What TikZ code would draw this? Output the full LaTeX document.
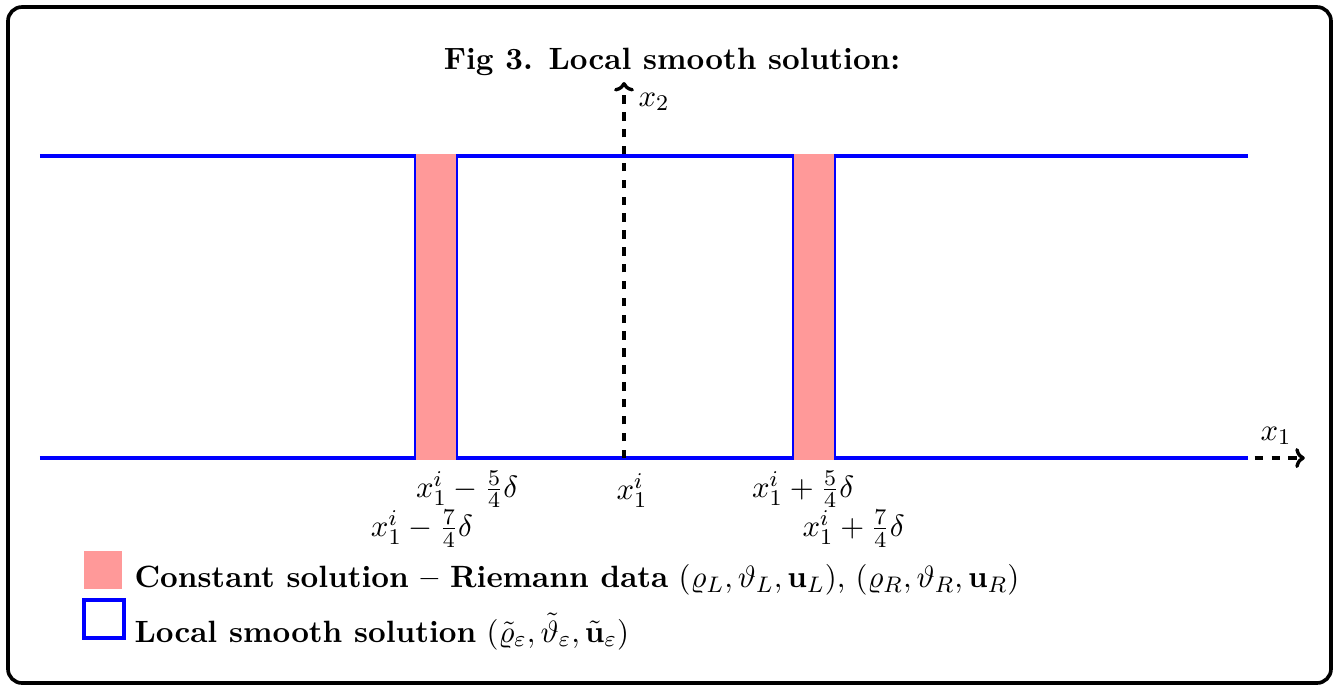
\documentclass[11pt,tikz,border=0pt]{standalone}
\usepackage{amsmath,amssymb}
\usetikzlibrary{arrows.meta}

\begin{document}
\begin{tikzpicture}[
  frame/.style={draw,line width=1.3pt,rounded corners=5pt},
  strip/.style={fill=red!40,draw=none},
  smooth/.style={blue,line width=1.1pt},
  axis/.style={-{To[scale=0.8]},dashed,very thick},
  tick/.style={inner sep=1pt}]

\useasboundingbox (-7.8,-2.8375) rectangle (8.8875,5.725);
\draw[frame] (-7.7,-2.8125) rectangle (8.8375,5.6375);

\node[font=\bfseries] (title) at (0.6,4.95) {Fig 3. Local smooth solution:};

% axes ends
\coordinate (o) at (0,0);
\coordinate (xs) at (-7.3,0);
\coordinate (xe) at (8.51,0);
\coordinate (ye) at (0,4.7);

\draw[axis] (xs) -- (xe);

% smooth solution
\draw[smooth] (-7.3,3.775) -- (-2.6,3.775) -- (-2.6,0) -- (-7.3,0);
\draw[smooth] (-2.1,0) rectangle (2.125,3.775);
\draw[smooth] (7.8,3.775) -- (2.625,3.775) -- (2.625,0) -- (7.8,0);

% constant states
\fill[strip] (-2.6,-0.019) rectangle (-2.1,3.794);
\fill[strip] (2.125,-0.019) rectangle (2.625,3.794);

\draw[axis] (o) -- (ye);

\node (xtwo) at (0.375,4.45) {$x_2$};
\node (xone) at (8.15,0.275) {$x_1$};

\node[tick] (lfive) at (-1.96,-0.39) {$x_1^i-\frac{5}{4}\delta$};
\node[tick] (lseven) at (-2.525,-0.88) {$x_1^i-\frac{7}{4}\delta$};
\node[tick] (mid) at (0.1,-0.41) {$x_1^i$};
\node[tick] (rfive) at (2.24,-0.39) {$x_1^i+\frac{5}{4}\delta$};
\node[tick] (rseven) at (2.87,-0.88) {$x_1^i+\frac{7}{4}\delta$};

% legend
\fill[strip] (-6.75,-1.6375) rectangle (-6.275,-1.1625);
\draw[smooth] (-6.75,-2.25) rectangle (-6.25,-1.775);
\node[anchor=west,inner sep=0pt] (lgconst) at (-6.125,-1.52) {\textbf{Constant solution -- Riemann data} $(\varrho_L,\vartheta_L,\mathbf{u}_L)$, $(\varrho_R,\vartheta_R,\mathbf{u}_R)$};
\node[anchor=west,inner sep=0pt] (lgsmooth) at (-6.125,-2.17) {\textbf{Local smooth solution} $(\tilde{\varrho}_\varepsilon,\tilde{\vartheta}_\varepsilon,\tilde{\mathbf{u}}_\varepsilon)$};
\end{tikzpicture}
\end{document}
